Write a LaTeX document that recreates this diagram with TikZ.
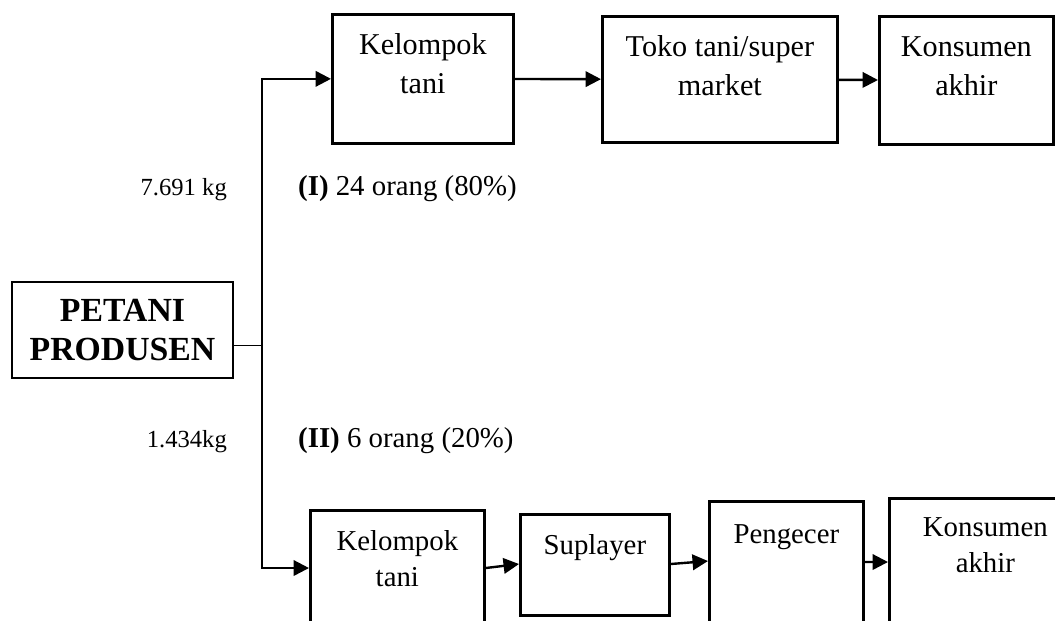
\documentclass[tikz,border=0pt]{standalone}
\usepackage{fontspec}
\setmainfont{Liberation Serif}
\usetikzlibrary{arrows.meta}

% text of a box, set from its top edge down
\newcommand{\stagetext}[4][1cm]{\parbox[c][#3][t]{#2}{\centering\rule{0pt}{#1}#4}}

\begin{document}
\begin{tikzpicture}[x=0.025cm, y=-0.025cm, -{Triangle[length=11pt,width=11pt]}, line width=1.7pt]
    \tikzstyle{stage}=[draw, line width=1.9pt, anchor=north west, inner sep=0pt,
        font=\fontsize{20.5}{26}\selectfont]
    \tikzstyle{top stage}=[stage, font=\fontsize{21.5}{28}\selectfont]
    \tikzstyle{source}=[stage, anchor=center, align=center, minimum width=5.525cm,
        minimum height=2.4cm, font=\fontsize{24}{28}\selectfont\bfseries]
    \tikzstyle{amount}=[inner sep=0pt, font=\fontsize{17.5}{20}\selectfont]
    \tikzstyle{share}=[inner sep=0pt, anchor=base west, font=\fontsize{20.5}{24}\selectfont]

    \useasboundingbox (0,0) rectangle (1055,620);
    \clip (0,0) rectangle (1055,620);

    % Draw the producer
    \node[source] (petani) at (122.5,330) {PETANI\\PRODUSEN};
    \coordinate (split) at (262,345);

    % Draw the first channel
    \node[top stage] (kt1) at (331,13) {\stagetext{4.525cm}{3.225cm}{Kelompok\\tani}};
    \node[top stage] (toko) at (601,15) {\stagetext{5.875cm}{3.15cm}{Toko tani/super\\market}};
    \node[top stage] (kons1) at (878,15) {\stagetext{4.35cm}{3.2cm}{Konsumen\\akhir}};

    % Draw the second channel
    \node[stage] (kt2) at (309,509) {\stagetext{4.35cm}{3cm}{Kelompok\\tani}};
    \node[stage] (supl) at (519,513) {\stagetext{3.725cm}{2.525cm}{Suplayer}};
    \node[stage] (peng) at (708,500) {\stagetext[1.05cm]{3.85cm}{3.5cm}{Pengecer}};
    \node[stage] (kons2) at (888,497) {\stagetext[0.95cm]{4.8cm}{3.5cm}{Konsumen\\akhir}};

    % Split the flow from the producer
    \draw[-, line width=0.7pt] (petani.east |- split) -- (split);
    \draw (split) |- (kt1.west);
    \draw (split) |- ([yshift=-1.475cm]kt2.north west);

    % Connect the boxes of the first channel
    \foreach \source/\dest in {kt1/toko, toko/kons1}
        \path (\source) edge (\dest);

    % Connect the boxes of the second channel
    \foreach \source/\a/\dest/\b in {kt2/1.475/supl/1.275, supl/1.275/peng/1.525, peng/1.55/kons2/1.625}
        \draw ([yshift=-\a cm]\source.north east) -- ([yshift=-\b cm]\dest.north west);

    % Annotate the channels
    \node[amount, anchor=base east] (q1) at (228,195) {7.691 kg};
    \node[amount, anchor=base east] (q2) at (228,447) {1.434kg};
    \node[share] (s1) at (297,195) {\textbf{(I)} 24 orang (80\%)};
    \node[share] (s2) at (297,447) {\textbf{(II)} 6 orang (20\%)};
\end{tikzpicture}
\end{document}
